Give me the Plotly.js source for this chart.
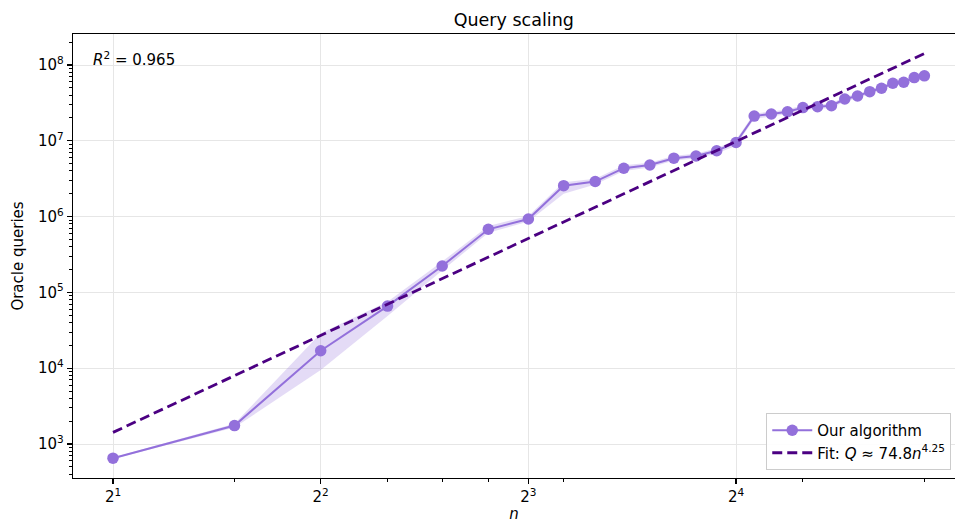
<!DOCTYPE html>
<html>
<head>
<meta charset="utf-8">
<script src="https://cdn.plot.ly/plotly-3.0.1.min.js"></script>
<style>html,body{margin:0;padding:0;background:#fff;}#chart{width:955px;height:523px;}</style>
</head>
<body>
<div id="chart"></div>
<script>
// ---- data ----
const nValues = [2,3,4,5,6,7,8,9,10,11,12,13,14,15,16,17,18,19,20,21,22,23,24,25,26,27,28,29,30];
const queries = [650,1750,17000,66000,223000,680000,930000,2.56e6,2.9e6,4.35e6,4.8e6,5.9e6,6.3e6,7.4e6,9.5e6,
                 2.12e7,2.26e7,2.42e7,2.74e7,2.82e7,2.9e7,3.56e7,3.9e7,4.45e7,4.93e7,5.74e7,5.92e7,6.82e7,7.2e7];
const queriesLow = [635,1650,9500,49000,195000,610000,860000,2.0e6,2.65e6,4.0e6,4.45e6,5.5e6,5.85e6,6.8e6,8.6e6,
                    1.95e7,2.1e7,2.25e7,2.55e7,2.62e7,2.7e7,3.3e7,3.65e7,4.15e7,4.6e7,5.35e7,5.55e7,6.4e7,6.8e7];
const queriesHigh = [665,1850,29000,75000,255000,750000,1.02e6,2.85e6,3.15e6,4.75e6,5.15e6,6.35e6,6.75e6,8.0e6,1.03e7,
                     2.3e7,2.42e7,2.6e7,2.93e7,3.02e7,3.1e7,3.82e7,4.15e7,4.75e7,5.25e7,6.1e7,6.3e7,7.25e7,7.6e7];
const fitA = 74.8, fitB = 4.25;           // Q ≈ 74.8 n^4.25
const fitN = [2, 30];
const fitQ = fitN.map(n => fitA * Math.pow(n, fitB));
const xTickVals = [2,4,8,16];
const xTickText = ['2<sup>1</sup>','2<sup>2</sup>','2<sup>3</sup>','2<sup>4</sup>'];
const xMinorVals = [3,5,6,7,9,20,30];
const yTickVals = [1e3,1e4,1e5,1e6,1e7,1e8];
const yTickText = ['10<sup>3</sup>','10<sup>4</sup>','10<sup>5</sup>','10<sup>6</sup>','10<sup>7</sup>','10<sup>8</sup>'];
const r2Text = '<i>R</i><sup>2</sup> = 0.965';

const yMinorVals = [];
for (let k = 2; k <= 8; k++) for (let m = 2; m <= 9; m++) yMinorVals.push(m * Math.pow(10, k));

const purple = '#9370DB', indigo = '#4B0082';
const FONT = 'DejaVu Sans, sans-serif';

const traces = [
  {x: nValues, y: queriesLow, mode: 'lines', line: {width: 0, color: purple}, showlegend: false, hoverinfo: 'skip'},
  {x: nValues, y: queriesHigh, mode: 'lines', line: {width: 0, color: purple}, fill: 'tonexty',
   fillcolor: 'rgba(147,112,219,0.25)', showlegend: false, hoverinfo: 'skip'},
  {x: nValues, y: queries, mode: 'lines+markers', name: 'Our algorithm',
   line: {color: purple, width: 2}, marker: {color: purple, size: 11.5}},
  {x: fitN, y: fitQ, mode: 'lines', name: 'Fit: <i>Q</i> ≈ 74.8<i>n</i><sup>4.25</sup>',
   line: {color: indigo, width: 2.8, dash: '10px,5px'}}
];

const layout = {
  width: 955, height: 523,
  margin: {l: 73, r: 0, t: 34, b: 45},
  paper_bgcolor: '#fff', plot_bgcolor: '#fff',
  font: {family: FONT, size: 15, color: '#000'},
  title: {text: 'Query scaling', font: {family: FONT, size: 17.5, color: '#000'},
          x: 0.538, xanchor: 'center', y: 0.962, yanchor: 'middle'},
  showlegend: true,
  legend: {x: 0.786, xanchor: 'left', y: 0.018, yanchor: 'bottom', bgcolor: 'rgba(255,255,255,0.9)',
           bordercolor: '#cccccc', borderwidth: 1, font: {family: FONT, size: 15, color: '#000'},
           traceorder: 'normal', tracegroupgap: 0, itemwidth: 40},
  xaxis: {
    type: 'log', range: [0.24305, 1.5215], autorange: false,
    tickmode: 'array', tickvals: xTickVals, ticktext: xTickText,
    ticks: 'outside', ticklen: 5, tickwidth: 1.2, tickcolor: '#000',
    showline: true, linecolor: '#000', linewidth: 1.2, mirror: true,
    showgrid: true, gridcolor: '#e6e6e6', gridwidth: 1, zeroline: false,
    tickfont: {family: FONT, size: 15, color: '#000'},
    minor: {tickmode: 'array', tickvals: xMinorVals, ticks: 'outside', ticklen: 3, tickwidth: 1, tickcolor: '#000', showgrid: false},
    title: {text: '<i>n</i>', font: {family: FONT, size: 15, color: '#000'}, standoff: 10}
  },
  yaxis: {
    type: 'log', range: [2.5515, 8.409], autorange: false,
    tickmode: 'array', tickvals: yTickVals, ticktext: yTickText,
    ticks: 'outside', ticklen: 5, tickwidth: 1.2, tickcolor: '#000',
    showline: true, linecolor: '#000', linewidth: 1.2, mirror: false,
    showgrid: true, gridcolor: '#e6e6e6', gridwidth: 1, zeroline: false,
    tickfont: {family: FONT, size: 15, color: '#000'},
    minor: {tickmode: 'array', tickvals: yMinorVals, ticks: 'outside', ticklen: 3, tickwidth: 1, tickcolor: '#000', showgrid: false},
    title: {text: 'Oracle queries', font: {family: FONT, size: 15, color: '#000'}, standoff: 10}
  },
  annotations: [{
    text: r2Text, xref: 'paper', yref: 'paper', x: 0.0204, y: 0.9437,
    xanchor: 'left', yanchor: 'middle', showarrow: false, font: {family: FONT, size: 15, color: '#000'}
  }]
};

Plotly.newPlot('chart', traces, layout, {displayModeBar: false, staticPlot: true});
</script>
</body>
</html>
